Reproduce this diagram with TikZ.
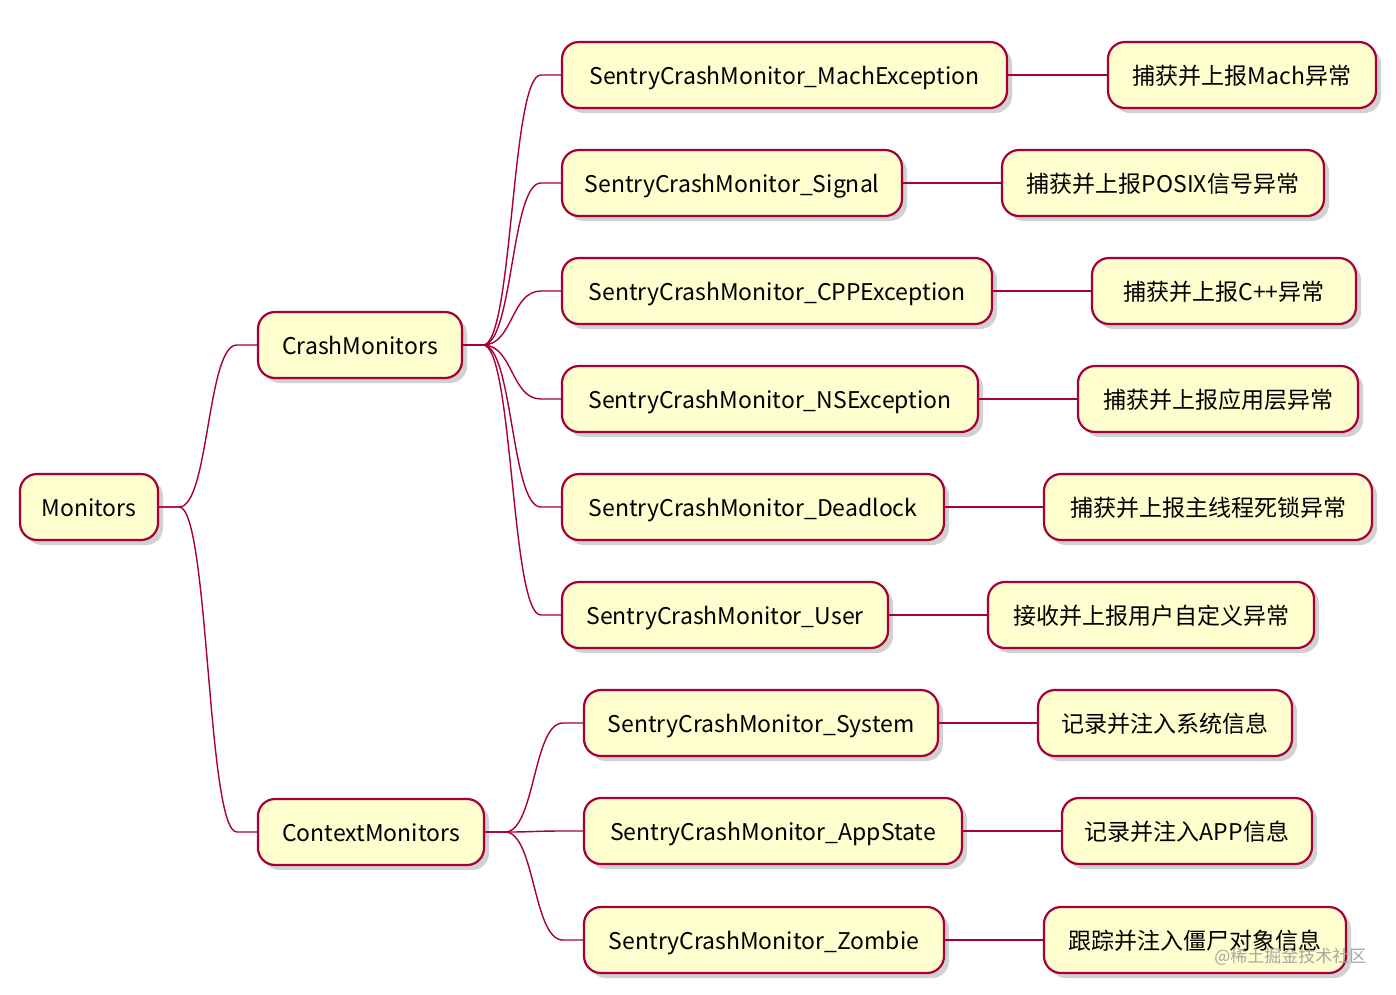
\documentclass[tikz,border=0pt]{standalone}
\usepackage{fontspec}
\setmainfont{Noto Sans CJK SC}
\usetikzlibrary{shadows,calc}
\definecolor{pfill}{HTML}{FEFECE}
\definecolor{pline}{HTML}{A80036}
\begin{document}
\begin{tikzpicture}[x=1pt,y=-1pt,
 box/.style={draw=pline,line width=2.2pt,fill=pfill,rounded corners=17pt,minimum height=66pt,inner sep=0pt,
   text height=23pt,text depth=4pt,
   font=\fontsize{23}{27}\selectfont,drop shadow={shadow xshift=5pt,shadow yshift=-5pt,opacity=0.3,fill=black!60}},
 con/.style={draw=pline,line width=1.4pt}]
\useasboundingbox (0,0) rectangle (1396,994);
\def\N#1#2#3#4#5{\node[box,minimum width=#3-#2] (#1) at ({(#2+#3)/2},#4) {#5};}
\N{m}{20}{158}{507}{Monitors}
\N{cr}{258}{462}{345}{CrashMonitors}
\N{ct}{258}{484}{832}{ContextMonitors}
\N{a1}{562}{1007}{75}{SentryCrashMonitor\_MachException}
\N{a2}{562}{902}{183}{SentryCrashMonitor\_Signal}
\N{a3}{562}{992}{291}{SentryCrashMonitor\_CPPException}
\N{a4}{562}{978}{399}{SentryCrashMonitor\_NSException}
\N{a5}{562}{944}{507}{SentryCrashMonitor\_Deadlock}
\N{a6}{562}{888}{615}{SentryCrashMonitor\_User}
\N{b1}{584}{938}{723}{SentryCrashMonitor\_System}
\N{b2}{584}{962}{831}{SentryCrashMonitor\_AppState}
\N{b3}{584}{944}{940}{SentryCrashMonitor\_Zombie}
\N{c1}{1108}{1376}{75}{捕获并上报Mach异常}
\N{c2}{1002}{1324}{183}{捕获并上报POSIX信号异常}
\N{c3}{1092}{1356}{291}{捕获并上报C++异常}
\N{c4}{1078}{1358}{399}{捕获并上报应用层异常}
\N{c5}{1044}{1372}{507}{捕获并上报主线程死锁异常}
\N{c6}{988}{1314}{615}{接收并上报用户自定义异常}
\N{d1}{1038}{1292}{723}{记录并注入系统信息}
\N{d2}{1062}{1312}{831}{记录并注入APP信息}
\N{d3}{1044}{1346}{940}{跟踪并注入僵尸对象信息}
\def\C#1#2{\draw[con] (#1.east) -- ++(20,0) .. controls ++(30,0) and ($(#2.west)+(-50,0)$) .. ($(#2.west)+(-20,0)$) -- (#2.west);}
\C{m}{cr}\C{m}{ct}
\foreach \k in {a1,a2,a3,a4,a5,a6}{\C{cr}{\k}}
\foreach \k in {b1,b2,b3}{\C{ct}{\k}}
\foreach \p/\q in {a1/c1,a2/c2,a3/c3,a4/c4,a5/c5,a6/c6,b1/d1,b2/d2,b3/d3}{\draw[con] (\p.east) -- (\q.west);}
\node[text=black!35,font=\fontsize{17}{20}\selectfont,anchor=east] (wm) at (1370,957) {@稀土掘金技术社区};
\end{tikzpicture}
\end{document}
